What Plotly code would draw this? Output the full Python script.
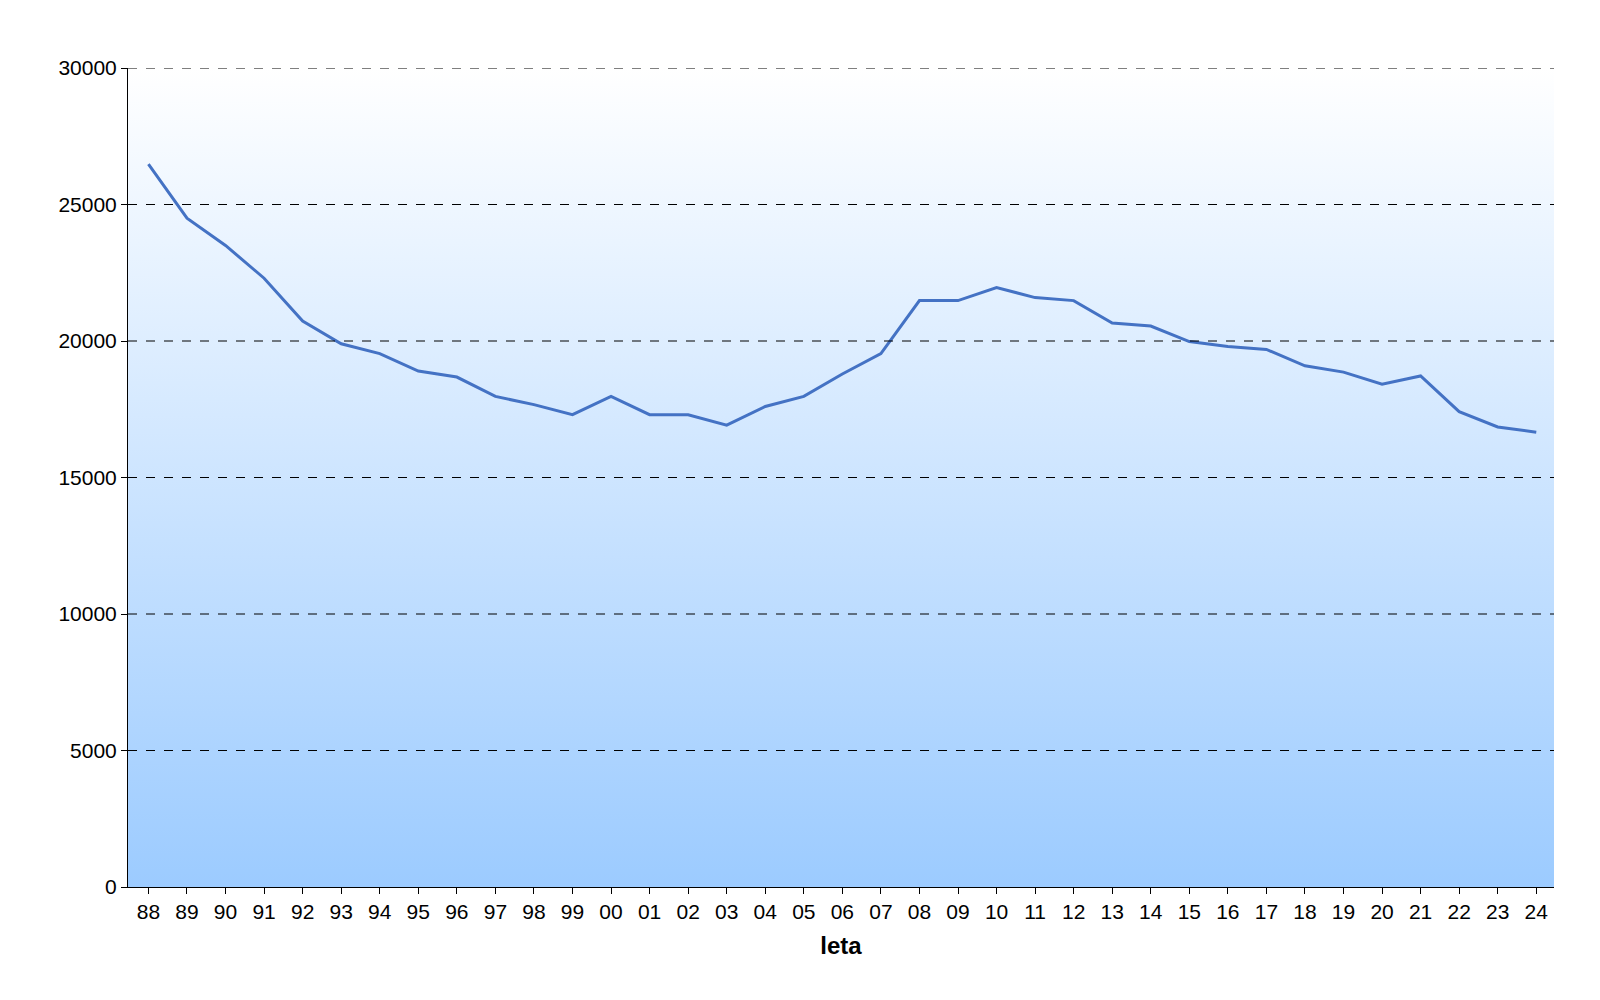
import plotly.graph_objects as go

years = ["88","89","90","91","92","93","94","95","96","97","98","99","00","01","02","03","04","05","06","07","08","09","10","11","12","13","14","15","16","17","18","19","20","21","22","23","24"]
values = [26480,24500,23500,22300,20730,19900,19540,18900,18680,17970,17670,17300,17970,17300,17300,16920,17600,17970,18790,19540,21480,21480,21960,21590,21480,20660,20550,19980,19800,19690,19090,18860,18420,18720,17410,16850,16660]
yticks = [0,5000,10000,15000,20000,25000,30000]

idx = list(range(len(years)))
lo, hi = -0.53, len(years) - 0.54

fig = go.Figure()
fig.add_trace(go.Scatter(
    x=[lo, hi, hi, lo, lo], y=[0, 0, 30000, 30000, 0], mode="none",
    fill="toself", hoverinfo="skip", showlegend=False,
    fillgradient=dict(type="vertical", colorscale=[[0, "#9ccbff"], [1, "#ffffff"]])))
fig.add_trace(go.Scatter(x=idx, y=values, mode="lines",
                         line=dict(color="#4472c4", width=3), showlegend=False))

for v in yticks[1:]:
    fig.add_shape(type="line", xref="paper", x0=0, x1=1, yref="y", y0=v, y1=v,
                  line=dict(color="black", width=1, dash="dash"), layer="above")

fig.update_layout(
    width=1600, height=1000, plot_bgcolor="white", paper_bgcolor="white",
    margin=dict(l=120, r=54, t=60, b=121, autoexpand=False),
    font=dict(family="Liberation Sans, Arial", size=21, color="black"),
    xaxis=dict(range=[lo, hi], tickvals=idx, ticktext=years, showgrid=False,
               showline=True, linecolor="black", linewidth=1, ticks="outside",
               ticklen=6, tickcolor="black", zeroline=False, automargin=False,
               title=dict(text="<b>leta</b>", font=dict(size=24), standoff=14)),
    yaxis=dict(range=[0, 30000], tickvals=yticks, tickformat="d", showgrid=False,
               showline=True, linecolor="black", linewidth=1, ticks="outside",
               ticklen=6, tickcolor="black", zeroline=False, automargin=False),
)
fig.write_html("out.html")
